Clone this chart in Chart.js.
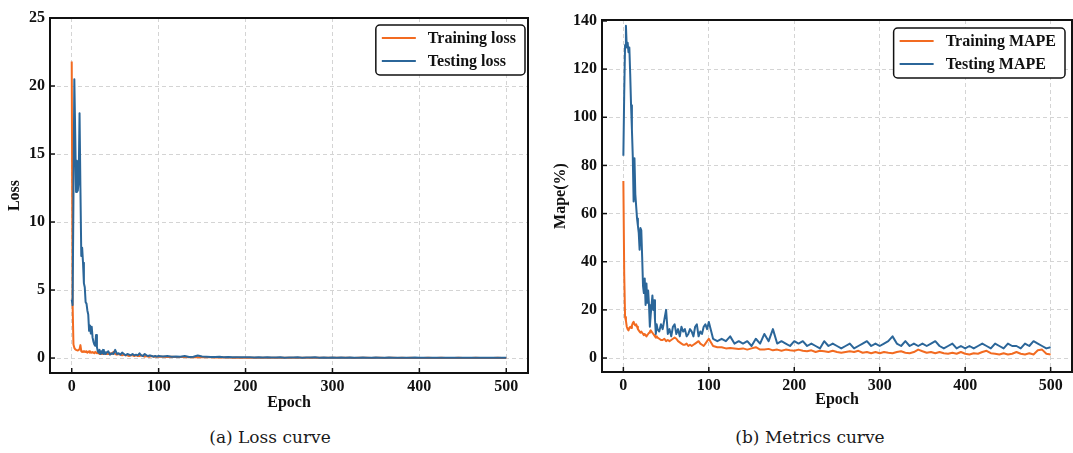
<!DOCTYPE html>
<html>
<head>
<meta charset="utf-8">
<script src="https://cdn.jsdelivr.net/npm/chart.js@4.4.0/dist/chart.umd.min.js"></script>
<style>
    body { margin: 0; background: #ffffff; }
    #wrap { position: relative; width: 1073px; height: 453px; overflow: hidden; }
    .box { position: absolute; top: 0; height: 420px; }
    .caption { position: absolute; top: 427px; font-family: "DejaVu Serif", serif; font-size: 17px; color: #1a1a1a; white-space: nowrap; transform: translateX(-50%); }
</style>
</head>
<body>
<div id="wrap">
    <div class="box" style="left:0px;width:540px;"><canvas id="LossChart"></canvas></div>
    <div class="box" style="left:545px;width:528px;"><canvas id="MapeChart"></canvas></div>
    <div class="caption" style="left:270px;">(a) Loss curve</div>
    <div class="caption" style="left:810px;">(b) Metrics curve</div>
</div>
<script>
// x values: every epoch up to 40, then every 2, then every 5
const epochs = [
    0,1,2,3,4,5,6,7,8,9,10,11,12,13,14,15,16,17,18,19,20,21,22,23,24,25,26,27,28,29,30,31,32,33,34,35,36,37,38,39,40,
    42,44,46,48,50,52,54,56,58,60,62,64,66,68,70,72,74,76,78,80,82,84,86,88,90,92,94,96,98,100,
    105,110,115,120,125,130,135,140,145,150,155,160,165,170,175,180,185,190,195,200,
    205,210,215,220,225,230,235,240,245,250,255,260,265,270,275,280,285,290,295,300,
    305,310,315,320,325,330,335,340,345,350,355,360,365,370,375,380,385,390,395,400,
    405,410,415,420,425,430,435,440,445,450,455,460,465,470,475,480,485,490,495,500
];

const train_loss = [
    21.8,4.0,1.0,0.75,0.65,0.6,0.6,0.55,0.6,0.65, 0.95,0.5,0.45,0.5,0.45,0.5,0.45,0.5,0.4,0.45,
    0.5,0.4,0.45,0.4,0.45,0.4,0.35,0.45,0.4,0.35, 0.4,0.35,0.3,0.35,0.3,0.35,0.3,0.3,0.35,0.3, 0.3,
    0.3,0.35,0.3,0.45,0.3,0.25,0.3,0.25,0.2,0.25, 0.2,0.2,0.15,0.2,0.2,0.15,0.2,0.15,0.15,0.2,
    0.15,0.1,0.15,0.1,0.1,0.15,0.1,0.1,0.1,0.1,
    0.1,0.08,0.1,0.08,0.07,0.08,0.06,0.07,0.06,0.05, 0.05,0.05,0.04,0.05,0.04,0.04,0.03,0.04,0.03,0.03,
    0.03,0.03,0.02,0.03,0.02,0.03,0.02,0.02,0.03,0.02, 0.02,0.02,0.03,0.02,0.02,0.02,0.02,0.03,0.02,0.02,
    0.02,0.02,0.02,0.02,0.01,0.02,0.02,0.02,0.01,0.02, 0.02,0.01,0.02,0.02,0.01,0.02,0.01,0.02,0.01,0.01,
    0.01,0.02,0.01,0.01,0.02,0.01,0.01,0.01,0.02,0.01, 0.01,0.01,0.02,0.01,0.01,0.01,0.01,0.02,0.01,0.01
];

const test_loss = [
    4.3,3.9,12.0,20.5,16.5,12.2,14.5,12.3,13.0,18.0, 12.5,7.5,8.1,7.0,5.5,5.2,4.1,4.0,3.5,3.2,
    2.0,2.4,1.8,2.3,1.5,1.2,1.0,0.9,1.7,0.8, 0.5,0.4,0.6,0.3,0.5,0.35,0.6,0.3,0.45,0.3, 0.4,
    0.5,0.25,0.35,0.3,0.6,0.3,0.35,0.25,0.4,0.3, 0.2,0.3,0.25,0.2,0.3,0.2,0.25,0.2,0.35,0.2,
    0.15,0.3,0.2,0.15,0.2,0.15,0.1,0.15,0.1,0.15,
    0.12,0.15,0.1,0.12,0.1,0.15,0.08,0.1,0.18,0.12, 0.1,0.08,0.07,0.1,0.06,0.07,0.05,0.06,0.05,0.05,
    0.05,0.04,0.05,0.04,0.05,0.04,0.04,0.05,0.03,0.04, 0.04,0.05,0.03,0.04,0.04,0.05,0.03,0.04,0.03,0.04,
    0.03,0.04,0.03,0.04,0.03,0.03,0.04,0.03,0.03,0.04, 0.03,0.03,0.04,0.03,0.03,0.02,0.03,0.03,0.04,0.03,
    0.03,0.02,0.03,0.03,0.02,0.03,0.03,0.02,0.03,0.02, 0.03,0.02,0.03,0.02,0.02,0.03,0.02,0.02,0.03,0.02
];

const train_mape = [
    73.5,35,17,15.5,13,12,11.5,12.5,13,12.5, 13.5,14.5,15,14,13.5,14,13,12,11.5,11,
    10.5,11,10.5,10,9.5,10,9.5,9,9.5,10, 10.5,11,11.5,11,10.5,10,9.5,9,8.5,9, 8.5,
    8,7.5,7.5,8,7,7.5,7,7.5,8,8.5, 8,7,6.5,6,5.5,5.5,6,5,5.5,5,
    5.5,6,6.5,7,6,5.5,5,6,7,8,
    5,4.5,4.5,4,4.2,4,3.8,4,3.5,4, 4.5,3.5,3.5,3.8,3.2,3.5,3,3.5,3.2,3,
    3.5,3,2.8,3.2,2.5,3,2.8,2.5,3,2.5, 2.2,2.5,2.8,2.5,3,2.2,2.5,2,2.5,2,
    2.5,2.2,2,2.5,2.8,2.2,2,2.5,3.5,2.8, 2.2,2.5,2,2.5,2,1.8,2.2,1.8,2.5,1.8,
    1.5,2,1.8,2.5,3,2,1.8,1.5,2,1.5, 1.8,2.5,1.8,1.5,2,1.5,3.2,3.5,1.8,1.5
];

const test_mape = [
    84,110,130,138,129,131,127,129,118,105, 95,84,65,83,68,63,58,55,52,45,
    54,53,42,30,27,33,22,31,23,28, 22,13,18,22,26,20,24,16,10,14, 12,
    11,14,12,16,20,10,12,9,13,14, 10,12,9,13,11,12,9,10,12,11,
    9,13,14,9,11,10,13,14,12,15,
    8,7,8,7,9,6,7,6,7,5, 8,6,10,7,12,6,7,6,5,7,
    6,7,5,6,5,4,7,5,6,5, 4,5,6,4,5,6,7,5,6,5,
    6,7,9,6,5,7,5,6,5,6, 5,6,7,5,4,5,6,4,5,4,
    5,4,5,6,5,4,6,5,4,6, 5,5,4,6,5,7,6,5,4,4.5
];

const epoch_ticks = [0, 100, 200, 300, 400, 500];
const loss_ticks = [0, 5, 10, 15, 20, 25];
const mape_ticks = [0, 20, 40, 60, 80, 100, 120, 140];

const ORANGE = '#f26b21';
const BLUE = '#2b6699';
const tickFont = { family: 'Liberation Serif', size: 16, weight: 'bold' };

function toPoints(ys) {
    return epochs.map((e, i) => ({ x: e, y: ys[i] }));
}

// frame, inward ticks and a legend inside the plot area
const framePlugin = {
    id: 'frame',
    afterDraw(chart, args, opts) {
        const ctx = chart.ctx;
        const a = chart.chartArea;
        const xs = chart.scales.x, ys = chart.scales.y;
        ctx.save();
        ctx.strokeStyle = '#111';
        ctx.lineWidth = 1.5;
        xs.ticks.forEach(t => {
            const px = xs.getPixelForValue(t.value);
            ctx.beginPath(); ctx.moveTo(px, a.bottom); ctx.lineTo(px, a.bottom - 5); ctx.stroke();
        });
        ys.ticks.forEach(t => {
            const py = ys.getPixelForValue(t.value);
            ctx.beginPath(); ctx.moveTo(a.left, py); ctx.lineTo(a.left + 5, py); ctx.stroke();
        });
        ctx.lineWidth = 2;
        ctx.strokeRect(a.left, a.top, a.right - a.left, a.bottom - a.top);

        // legend
        ctx.font = 'bold 16px "Liberation Serif"';
        const labels = chart.data.datasets.map(d => d.label);
        const tw = Math.max(...labels.map(l => ctx.measureText(l).width));
        const w = 6 + 34 + 12 + tw + 9;
        const h = 50;
        const bx = a.right - opts.right - w;
        const by = a.top + opts.top;
        ctx.fillStyle = '#ffffff';
        ctx.strokeStyle = '#111';
        ctx.lineWidth = 1.5;
        ctx.beginPath();
        ctx.roundRect(bx, by, w, h, 4);
        ctx.fill();
        ctx.stroke();
        chart.data.datasets.forEach((d, i) => {
            const ly = by + 13 + i * 23;
            ctx.strokeStyle = d.borderColor;
            ctx.lineWidth = 2;
            ctx.beginPath(); ctx.moveTo(bx + 6, ly); ctx.lineTo(bx + 40, ly); ctx.stroke();
            ctx.fillStyle = '#111';
            ctx.textBaseline = 'middle';
            ctx.fillText(d.label, bx + 52, ly + 1);
        });
        ctx.restore();
    }
};

function makeConfig(labels, trainData, testData, yMin, yMax, yTicks, yTitle, opt) {
    return {
        type: 'line',
        data: {
            datasets: [{
                label: labels[0],
                data: toPoints(trainData),
                borderColor: ORANGE,
                backgroundColor: ORANGE,
                borderWidth: 2,
                borderJoinStyle: 'round',
                pointRadius: 0,
                tension: 0,
                order: 1,
            }, {
                label: labels[1],
                data: toPoints(testData),
                borderColor: BLUE,
                backgroundColor: BLUE,
                borderWidth: 2,
                borderJoinStyle: 'round',
                pointRadius: 0,
                tension: 0,
                order: 0,
            }]
        },
        options: {
            responsive: true,
            maintainAspectRatio: false,
            animation: false,
            layout: { padding: opt.padding },
            plugins: {
                legend: { display: false },
                tooltip: { enabled: false },
                frame: opt.legend,
            },
            scales: {
                x: {
                    type: 'linear',
                    min: -25,
                    max: 525,
                    afterBuildTicks: s => { s.ticks = epoch_ticks.map(v => ({ value: v })); },
                    afterFit: s => { s.height = opt.xHeight; },
                    grid: { color: '#d4d4d4', lineWidth: 1, drawTicks: false },
                    border: { display: false, dash: [4, 3] },
                    ticks: { color: '#111', font: tickFont, padding: 4, maxRotation: 0 },
                    title: { display: true, text: 'Epoch', color: '#111', font: tickFont, padding: 0 },
                },
                y: {
                    type: 'linear',
                    min: yMin,
                    max: yMax,
                    afterBuildTicks: s => { s.ticks = yTicks.map(v => ({ value: v })); },
                    afterFit: s => { s.width = opt.yWidth; },
                    grid: { color: '#d4d4d4', lineWidth: 1, drawTicks: false },
                    border: { display: false, dash: [4, 3] },
                    ticks: { color: '#111', font: tickFont, padding: 5 },
                    title: { display: true, text: yTitle, color: '#111', font: tickFont, padding: { top: opt.yTitlePad, bottom: 0 } },
                }
            }
        },
        plugins: [framePlugin]
    };
}

const config_loss = makeConfig(['Training loss', 'Testing loss'], train_loss, test_loss,
    -1.1, 25, loss_ticks, 'Loss',
    { padding: { top: 18, right: 12, left: 0, bottom: 8 }, xHeight: 39, yWidth: 50, yTitlePad: 5, legend: { right: 3, top: 7 } });

const config_mape = makeConfig(['Training MAPE', 'Testing MAPE'], train_mape, test_mape,
    -5.8, 140.4, mape_ticks, 'Mape(%)',
    { padding: { top: 20, right: 1, left: 0, bottom: 11 }, xHeight: 37, yWidth: 57, yTitlePad: 6, legend: { right: 7, top: 8 } });

var LossChart = new Chart(document.getElementById('LossChart'), config_loss);
var MapeChart = new Chart(document.getElementById('MapeChart'), config_mape);
</script>
</body>
</html>
